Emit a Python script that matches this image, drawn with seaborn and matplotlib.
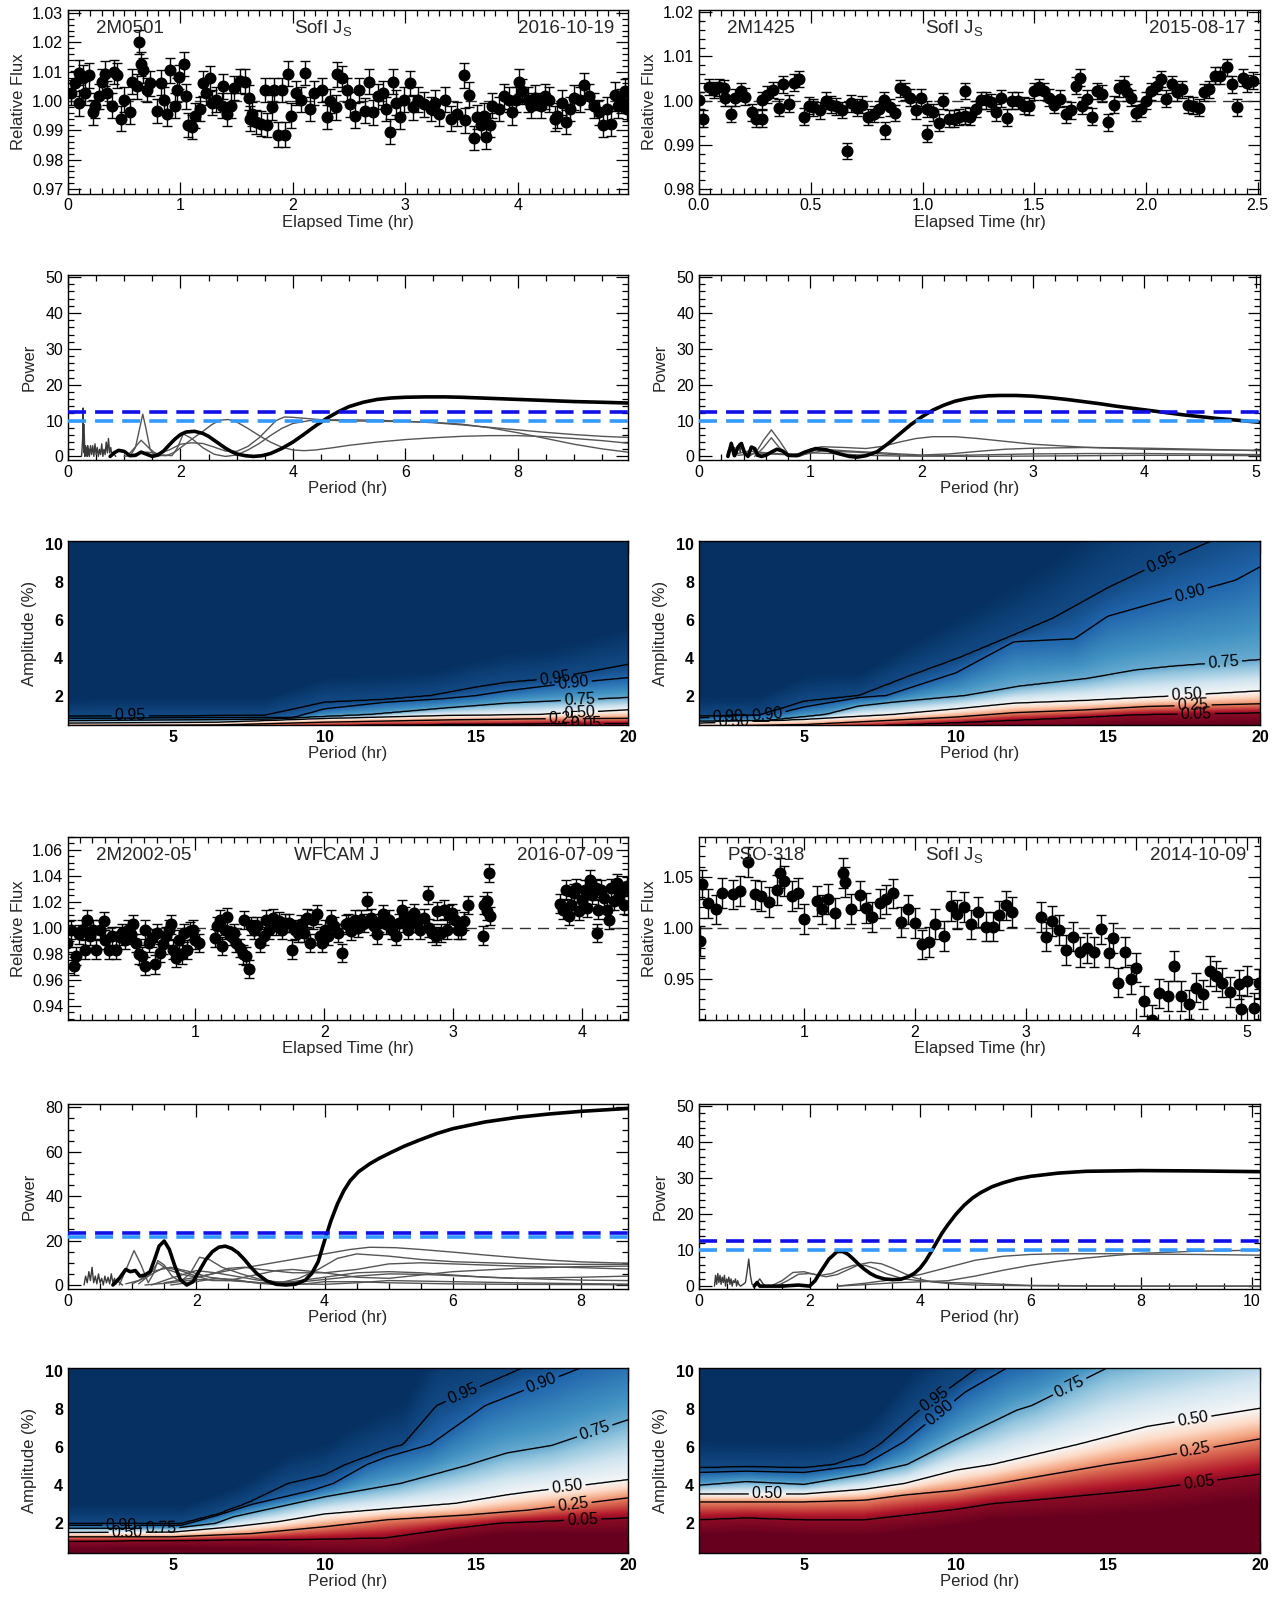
import numpy as np
import pandas as pd
import matplotlib
matplotlib.use("Agg")
import matplotlib.pyplot as plt
import seaborn as sns
from matplotlib.ticker import MultipleLocator

sns.set_theme(style="white")
plt.rcParams["font.family"] = ["Liberation Sans", "DejaVu Sans"]
plt.rcParams["mathtext.fontset"] = "custom"
plt.rcParams["mathtext.rm"] = "Liberation Sans"
plt.rcParams["mathtext.it"] = "Liberation Sans"

# ---------------- light curves ----------------
lc1_t = [0.03,0.06,0.1,0.1,0.135,0.15,0.19,0.22,0.24,0.28,0.3,0.33,0.35,0.39,0.41,0.44,0.47,0.5,0.55,0.57,
         0.61,0.63,0.65,0.67,0.7,0.73,0.79,0.83,0.85,0.88,0.91,0.95,0.97,0.99,1.03,1.05,1.07,1.1,1.13,1.17,
         1.2,1.23,1.26,1.28,1.32,1.37,1.38,1.41,1.45,1.48,1.53,1.57,1.61,1.62,1.64,1.67,1.72,1.75,1.77,1.81,
         1.83,1.87,1.9,1.93,1.96,1.98,2.03,2.07,2.11,2.15,2.19,2.26,2.3,2.33,2.38,2.39,2.44,2.48,2.51,2.55,
         2.59,2.64,2.68,2.71,2.76,2.8,2.83,2.86,2.89,2.92,2.95,2.99,3.04,3.07,3.11,3.17,3.23,3.26,3.3,3.35,
         3.41,3.46,3.52,3.53,3.57,3.61,3.64,3.67,3.7,3.72,3.75,3.77,3.83,3.88,3.92,3.95,3.98,4.01,4.04,4.09,
         4.12,4.15,4.21,4.24,4.28,4.33,4.35,4.39,4.43,4.46,4.5,4.55,4.59,4.63,4.68,4.72,4.76,4.79,4.83,4.86,
         4.89,4.92,4.95,4.97]
lc1_f = [1.0028,1.006,1.0096,0.9992,1.008,1.0027,1.0088,0.9962,0.9984,1.0016,1.0066,1.0093,1.0027,0.9984,1.0099,1.0088,0.994,1.0005,0.9964,1.0066,
         1.005,1.0201,1.0126,1.0104,1.0038,1.006,0.9966,1.0063,1.0005,0.9956,1.0104,0.9984,1.0038,1.0082,1.0126,1.0016,0.9918,0.9912,0.995,0.9973,
         1.006,1.0027,1.0077,0.9994,1.0005,0.9984,1.005,0.9956,0.9984,1.0044,1.0068,1.0066,1.0011,0.994,0.9956,0.9929,0.9923,1.0038,0.9918,0.9978,
         1.0038,0.9885,1.0038,0.9885,1.0093,0.995,1.0027,1.0005,1.0095,0.9973,1.0027,1.0038,0.9945,1.0,0.9978,1.0091,1.0077,1.0038,0.9989,0.995,
         1.0038,0.9967,1.0066,0.9962,1.0016,1.0027,0.9973,0.9896,1.0066,0.9994,0.9945,1.0005,1.006,0.9978,1.0005,0.9989,0.9973,0.9994,0.9956,1.0005,
         0.994,0.9956,1.0088,0.9934,1.0022,0.9874,0.9945,0.9918,0.995,0.9879,0.9918,0.9984,0.9973,1.0016,1.0005,0.9962,1.0005,1.0066,1.0033,1.0005,
         0.9984,1.0011,0.9984,1.0016,1.0005,0.994,0.995,0.9994,0.9929,0.9973,1.0011,1.0005,1.0055,1.0016,0.9984,0.9962,0.9918,0.9973,0.9923,1.0022,
         0.9984,1.0,1.0033,0.9973]
lc1_err = 0.0042

lc2_t = [0.0,0.02,0.044,0.068,0.091,0.113,0.117,0.141,0.163,0.186,0.208,0.238,0.254,0.281,0.281,0.305,0.329,0.357,0.378,0.402,
         0.424,0.448,0.47,0.494,0.512,0.543,0.567,0.589,0.612,0.638,0.662,0.68,0.707,0.731,0.757,0.781,0.804,0.826,0.83,0.854,
         0.878,0.9,0.923,0.945,0.973,0.995,1.018,1.022,1.046,1.073,1.091,1.119,1.141,1.165,1.188,1.192,1.214,1.238,1.261,1.283,
         1.305,1.329,1.353,1.378,1.402,1.426,1.452,1.475,1.499,1.521,1.545,1.567,1.59,1.616,1.64,1.664,1.686,1.704,1.713,1.737,
         1.759,1.782,1.804,1.832,1.856,1.878,1.901,1.914,1.932,1.956,1.978,2.002,2.024,2.048,2.069,2.091,2.115,2.139,2.161,2.188,
         2.212,2.238,2.261,2.283,2.307,2.331,2.362,2.384,2.408,2.432,2.453,2.48]
lc2_f = [1.0001,0.9959,1.0031,1.0024,1.003,1.0028,1.0007,0.997,1.0007,1.0021,1.0009,0.9974,0.9959,0.9959,1.0001,1.0013,1.0024,0.9984,1.0037,0.9993,
         1.0041,1.0049,0.9964,0.9989,0.9985,0.9978,1.0,0.9991,0.9987,0.9979,0.9886,0.9994,0.9984,0.9991,0.9963,0.997,0.9981,1.0001,0.9933,0.9985,
         0.9972,1.0028,1.0021,1.0007,0.9978,1.0007,0.9981,0.9925,0.9974,0.995,0.9999,0.9959,0.9959,0.9963,1.0022,0.9966,0.9964,0.9981,1.0001,1.0001,
         0.9996,0.9974,1.0005,0.9961,1.0,1.0,0.9989,0.9987,1.0021,1.0031,1.0021,1.0007,0.9991,1.0004,0.9969,0.9978,1.0034,1.0052,0.9989,1.0004,
         0.9964,1.0022,1.0016,0.9951,0.9991,1.0028,1.0036,1.0019,1.0006,0.9972,0.9981,1.0,1.0021,1.0034,1.0049,1.0004,1.0037,1.0019,1.0026,0.9991,
         0.9989,0.9984,1.0019,1.0026,1.0056,1.0056,1.0075,1.0037,0.9985,1.0052,1.0039,1.0045]
lc2_err = 0.0019

lc3_t = [0.006,0.03,0.054,0.07,0.096,0.118,0.14,0.159,0.182,0.204,0.229,0.261,0.287,0.3,0.325,0.35,0.382,0.404,0.427,0.452,
         0.478,0.5,0.516,0.541,0.564,0.586,0.605,0.611,0.637,0.659,0.682,0.7,0.723,0.745,0.771,0.796,0.809,0.828,0.85,0.873,
         0.898,0.914,0.936,0.955,0.978,0.999,1.025,1.153,1.169,1.191,1.21,1.232,1.248,1.274,1.296,1.318,1.344,1.369,1.376,1.392,
         1.414,1.433,1.455,1.478,1.503,1.529,1.551,1.573,1.599,1.624,1.646,1.669,1.694,1.726,1.752,1.774,1.796,1.822,1.847,1.869,
         1.892,1.917,1.943,1.965,1.981,2.006,2.029,2.051,2.076,2.108,2.14,2.166,2.188,2.21,2.236,2.261,2.283,2.306,2.331,2.363,
         2.389,2.411,2.427,2.459,2.484,2.506,2.529,2.554,2.58,2.602,2.624,2.65,2.675,2.697,2.72,2.745,2.777,2.803,2.815,2.841,
         2.866,2.879,2.904,2.93,2.952,2.968,2.994,3.016,3.038,3.064,3.089,3.121,3.232,3.239,3.261,3.261,3.28,3.287,
         3.828,3.854,3.876,3.898,3.917,3.939,3.955,3.981,4.003,4.025,4.045,4.067,4.083,4.108,4.121,4.13,4.153,4.172,4.194,4.21,
         4.226,4.248,4.271,4.293,4.306,4.331,4.353]
lc3_f = [0.9885,0.9987,0.9705,0.978,0.9949,0.9987,0.9833,1.0064,0.9936,0.9987,0.9833,0.9987,1.005,0.991,0.9833,0.9936,0.9833,0.9936,0.9962,0.991,
         0.9987,0.9949,1.0026,0.9885,0.9795,0.9782,0.9705,0.9987,0.9885,0.9923,0.9718,0.9962,0.9808,0.9872,0.9936,0.9987,1.0026,0.9833,0.9769,0.991,
         0.9795,0.9962,0.9833,0.9974,0.9987,0.991,0.9885,0.9923,1.0013,1.0064,0.9859,0.9987,1.0085,0.9936,0.9962,0.9885,0.9846,0.9795,1.0059,0.9782,
         0.9685,1.0013,0.9987,1.0013,0.9885,0.9936,1.0064,0.9987,1.0077,1.0013,1.0051,0.9987,1.0038,1.0038,0.9833,0.9987,0.9962,1.0026,0.9962,1.0077,
         0.9885,1.0064,1.0103,0.9936,0.9885,0.9987,0.9936,1.0064,1.0013,0.9962,0.9808,1.0026,1.0038,0.9974,1.0064,1.0,1.0064,1.0038,1.0205,1.0077,
         1.0013,0.9949,1.0038,1.0103,1.0026,1.0064,0.9987,0.9936,1.0038,1.0141,1.009,0.9987,1.0038,1.0115,1.0038,0.9987,1.0077,1.0256,1.0,0.9962,
         0.9936,1.0128,0.9962,1.0141,0.9987,1.0103,1.0115,1.0064,0.9987,0.9987,1.0051,1.0179,0.9941,1.0179,1.0205,1.0128,1.0423,1.009,
         1.0187,1.0141,1.0295,1.009,1.0179,1.0269,1.0308,1.0128,1.0218,1.0295,1.0154,1.0372,1.0256,1.0308,0.9962,1.0141,1.0295,1.0231,1.0141,1.0064,
         1.0308,1.0205,1.0346,1.0244,1.0282,1.0179,1.0321]
lc3_err = 0.007

lc4_t = [0.056,0.074,0.13,0.204,0.259,0.359,0.419,0.493,0.556,0.611,0.685,0.752,0.778,0.815,0.889,0.944,1.0,1.111,1.159,1.211,
         1.278,1.352,1.37,1.426,1.5,1.556,1.611,1.685,1.741,1.804,1.878,1.937,2.0,2.063,2.13,2.185,2.259,2.322,2.381,2.444,
         2.511,2.567,2.641,2.704,2.759,2.826,2.878,3.141,3.185,3.241,3.307,3.37,3.426,3.493,3.556,3.619,3.685,3.759,3.789,3.833,
         3.9,3.952,4.0,4.074,4.148,4.211,4.285,4.344,4.407,4.481,4.537,4.604,4.667,4.722,4.778,4.852,4.926,4.952,5.0,5.063,5.111]
lc4_f = [0.9869,1.0425,1.0239,1.018,1.0343,1.0327,1.0359,1.0647,1.0327,1.031,1.0252,1.0369,1.0539,1.0458,1.031,1.0343,1.0088,1.0261,1.018,1.0284,
         1.0147,1.0539,1.0448,1.0186,1.0317,1.0196,1.0108,1.0239,1.0278,1.0337,1.0056,1.018,1.0049,0.9837,0.9859,1.0039,0.9918,1.0212,1.0131,1.0206,
         1.0033,1.0154,1.001,1.001,1.0121,1.0219,1.0154,1.0108,0.9912,1.0065,0.9977,0.9781,0.9912,0.9761,0.9804,0.9761,0.9984,0.9755,0.9902,0.9461,
         0.9761,0.9493,0.9608,0.9281,0.9095,0.9356,0.933,0.9624,0.933,0.9248,0.9412,0.9346,0.9575,0.9526,0.9461,0.9369,0.9444,0.9199,0.9477,0.9216,0.9454]
lc4_err = 0.0145

# ---------------- periodograms ----------------
p1_thick_x = [0.75,0.82,0.9,1.0,1.1,1.2,1.3,1.4,1.5,1.6,1.7,1.8,1.9,2.0,2.1,2.25,2.4,2.5,2.6,2.7,2.8,2.9,3.0,3.15,3.3,3.45,3.6,
              3.8,4.0,4.2,4.4,4.6,4.8,5.0,5.25,5.5,5.75,6.0,6.35,6.7,7.0,7.5,8.0,8.5,9.0,9.5,9.95]
p1_thick_y = [0.0,1.0,1.7,1.4,0.2,0.3,1.2,0.6,0.0,0.4,1.5,3.2,4.8,6.1,6.8,7.0,6.4,5.6,4.5,3.4,2.3,1.4,0.7,0.2,0.0,0.2,0.8,
              2.2,4.0,6.2,8.5,10.6,12.4,13.9,15.1,15.9,16.3,16.5,16.6,16.6,16.5,16.2,15.9,15.6,15.3,15.1,14.9]
p1_thin_x = [
    [1.1,1.2,1.27,1.33,1.39,1.46,1.55,1.7,1.85,1.95,2.05,2.2,2.4,2.6,2.8,3.0,3.2,3.4,3.6,3.8,4.0,4.3,4.6,5.0,5.5,6.0,6.5,7.0,7.5,8.0,8.5,9.0,9.5,9.95],
    [1.05,1.15,1.3,1.45,1.6,1.75,1.9,2.05,2.2,2.4,2.55,2.7,2.85,3.0,3.2,3.4,3.6,3.8,4.0,4.2,4.4,4.7,5.0,5.5,6.0,6.5,7.0,7.5,8.0,8.5,9.0,9.5,9.95],
    [1.0,1.2,1.4,1.6,1.8,2.0,2.2,2.4,2.6,2.8,3.0,3.2,3.4,3.6,3.7,3.85,4.0,4.3,4.6,5.0,5.5,6.0,6.5,7.0,7.5,8.0,8.5,9.0,9.5,9.95],
]
p1_thin_y = [
    [0.0,2.5,7.5,11.8,7.5,2.0,0.0,0.4,0.2,2.5,6.3,5.0,2.4,0.6,0.0,0.4,1.8,3.6,5.8,7.8,9.2,10.0,10.2,10.2,10.1,9.8,9.4,8.8,8.1,7.4,6.7,6.1,5.6,5.3],
    [0.0,1.8,4.5,2.2,0.3,0.2,1.2,3.0,4.8,7.0,8.8,10.1,10.3,9.6,7.8,5.8,4.0,2.6,1.8,1.6,1.8,2.4,3.1,4.0,4.7,5.2,5.6,5.8,5.8,5.5,5.0,4.4,3.7],
    [0.0,0.6,1.2,0.8,1.8,3.4,3.8,3.6,2.6,1.5,1.4,2.8,5.2,8.4,10.0,11.0,10.9,10.5,10.1,9.9,9.8,9.7,9.5,9.0,8.0,6.6,5.0,3.4,2.1,1.2],
]
p1_noise_x = [0.24,0.25,0.26,0.27,0.275,0.28,0.285,0.29,0.30,0.31,0.32,0.33,0.34,0.35,0.36,0.37,0.38,0.40,0.42,0.44,0.46,0.48,
              0.50,0.52,0.54,0.56,0.58,0.60,0.62,0.64,0.66,0.68,0.70,0.72,0.74,0.76,0.78,0.80,0.85]
p1_noise_y = [0.0,2.0,5.0,13.5,3.0,9.0,1.0,6.0,0.0,3.0,1.0,2.5,0.0,3.0,0.5,2.0,0.0,3.0,0.5,3.0,0.0,3.5,
              0.5,2.5,0.0,2.0,0.5,3.5,0.0,2.0,0.5,4.0,1.0,5.0,1.0,2.5,0.5,1.0,0.0]

p2_thick_x = [0.26,0.29,0.32,0.35,0.38,0.41,0.44,0.47,0.5,0.53,0.56,0.6,0.65,0.7,0.75,0.8,0.88,0.95,1.05,1.15,1.25,1.35,1.42,
              1.5,1.6,1.7,1.8,1.9,2.0,2.1,2.2,2.3,2.4,2.5,2.6,2.7,2.85,3.0,3.15,3.3,3.45,3.6,3.75,3.9,4.05,4.2,4.35,4.5,4.65,4.8,5.04]
p2_thick_y = [0.0,3.6,0.2,2.6,3.6,1.0,0.0,2.6,2.2,0.3,0.0,0.3,1.2,2.0,1.5,0.3,0.2,1.2,2.2,1.8,0.8,0.0,-0.2,
              0.2,1.3,3.6,6.2,8.8,11.0,12.9,14.3,15.4,16.1,16.6,16.9,17.0,17.0,16.8,16.4,15.9,15.3,14.7,14.0,13.4,12.8,12.2,11.6,11.1,10.6,10.2,9.5]
p2_thin_x = [
    [0.45,0.52,0.58,0.65,0.72,0.8,0.9,1.0,1.1,1.3,1.5,1.65,1.8,1.95,2.1,2.3,2.5,2.75,3.0,3.5,4.0,4.5,5.04],
    [0.5,0.58,0.65,0.72,0.8,0.9,1.05,1.2,1.4,1.6,1.8,2.0,2.25,2.5,2.75,3.0,3.5,4.0,4.5,5.04],
    [0.3,0.45,0.6,0.8,1.0,1.2,1.5,1.8,2.0,2.5,3.0,3.5,4.0,4.5,5.04],
    [0.35,0.5,0.7,0.9,1.1,1.4,1.7,2.0,2.5,3.0,3.5,4.0,4.5,5.04],
]
p2_thin_y = [
    [0.0,1.5,4.5,7.4,4.5,0.8,0.0,2.0,2.7,2.5,2.2,2.8,4.0,5.0,5.5,5.5,5.0,4.2,3.4,2.5,2.0,1.8,1.7],
    [0.0,2.5,5.2,2.5,0.6,0.0,1.8,1.8,1.4,1.1,0.7,0.4,0.7,1.4,2.0,2.3,2.5,2.3,2.0,1.6],
    [0.5,1.5,1.0,0.6,1.0,0.8,0.3,0.1,0.1,0.4,0.7,0.8,0.8,0.7,0.5],
    [0.3,0.8,0.6,0.3,1.5,1.2,0.6,0.1,0.0,0.1,0.2,0.3,0.3,0.2],
]
p2_noise_x = [0.25,0.26,0.27,0.28,0.29,0.30,0.31,0.32,0.33,0.34,0.35,0.36,0.37,0.38,0.39,0.40,0.42,0.44,0.46,0.48,0.50,0.52]
p2_noise_y = [0.0,1.5,0.5,3.0,4.0,1.0,0.0,2.5,1.0,0.5,2.5,3.5,1.0,3.0,3.8,1.5,0.5,0.0,1.5,2.8,1.0,0.0]

p3_thick_x = [0.7,0.8,0.9,0.97,1.05,1.12,1.2,1.28,1.35,1.42,1.5,1.58,1.66,1.75,1.85,1.95,2.05,2.15,2.25,2.35,2.45,2.55,2.65,2.75,2.85,2.95,
              3.1,3.25,3.4,3.55,3.7,3.8,3.9,4.0,4.1,4.2,4.3,4.4,4.53,4.7,4.85,5.03,5.25,5.5,5.75,6.0,6.5,7.0,7.5,8.0,8.73]
p3_thick_y = [0.0,3.0,7.0,6.0,6.5,4.0,4.5,6.0,11.5,17.5,19.8,16.0,9.0,2.5,0.0,1.5,6.5,11.5,15.0,17.0,17.5,16.5,14.5,11.5,8.0,5.0,
              1.8,0.3,0.0,0.4,2.2,5.2,10.5,20.0,29.0,36.5,42.5,47.0,51.0,54.5,57.0,59.6,62.6,65.5,68.2,70.4,73.4,75.5,77.0,78.2,79.5]
p3_thin_x = [
    [1.5,2.0,2.5,3.0,3.5,4.0,4.4,4.7,5.1,5.5,6.0,6.5,7.0,7.5,8.0,8.73],
    [0.8,0.92,1.03,1.14,1.25,1.33,1.4,1.5,1.62,1.75,1.9,2.05,2.2,2.4,2.7,3.0,3.3,3.6,3.9,4.2,4.5,5.0,5.5,6.0,7.0,8.0,8.73],
    [1.1,1.25,1.4,1.55,1.75,2.0,2.25,2.5,2.75,3.0,3.5,4.0,4.5,5.0,5.5,6.0,7.0,8.0,8.73],
    [1.0,1.25,1.5,1.75,2.0,2.25,2.5,2.75,3.0,3.25,3.5,4.0,4.5,5.0,5.5,6.0,7.0,8.0,8.73],
    [1.3,1.6,2.0,2.3,2.6,3.0,3.5,4.0,4.5,5.0,5.5,6.0,7.0,8.0,8.73],
    [1.2,1.6,2.0,2.5,3.0,3.5,4.0,4.5,5.0,5.5,6.0,6.5,7.0,8.0,8.73],
    [1.6,2.0,2.3,2.6,2.9,3.3,3.7,4.0,4.5,5.0,6.0,7.0,8.0,8.73],
    [0.9,1.1,1.3,1.6,1.9,2.2,2.6,3.0,3.5,4.0,4.5,5.0,6.0,7.0,8.0,8.73],
]
p3_thin_y = [
    [1.0,3.5,6.5,9.0,11.5,14.0,16.0,17.0,16.8,16.0,14.8,13.5,12.3,11.2,10.4,9.8],
    [0.0,8.0,15.5,9.0,1.0,5.0,11.0,9.0,4.0,1.5,5.0,12.5,11.5,8.0,5.0,2.5,1.0,3.0,7.0,12.0,14.0,13.0,11.5,10.5,9.6,9.3,9.3],
    [0.5,4.0,10.0,7.0,5.0,3.5,5.0,7.5,8.0,7.0,5.5,5.5,7.0,9.5,10.0,9.5,8.5,7.8,7.2],
    [0.5,4.0,8.0,6.5,4.0,2.0,2.0,3.5,5.0,6.5,7.0,5.5,3.5,3.0,4.5,6.0,7.5,8.3,8.5],
    [0.0,3.0,6.5,5.5,4.0,2.0,1.0,2.5,4.0,5.0,4.8,4.2,3.0,2.2,2.0],
    [0.0,1.0,2.5,2.0,1.0,1.5,3.5,5.5,6.0,5.5,4.5,3.5,3.0,3.5,4.0],
    [0.0,1.5,3.0,2.5,1.0,0.0,0.5,1.5,1.5,1.0,0.5,0.3,0.2,0.1],
    [0.5,2.0,6.0,8.0,6.0,3.5,2.0,1.0,0.5,0.3,1.0,2.0,1.5,1.0,0.6,0.4],
]
p3_noise_x = [0.25,0.275,0.3,0.325,0.35,0.375,0.4,0.425,0.45,0.475,0.5,0.525,0.55,0.575,0.6,0.625,0.65,0.675,0.7,0.725,0.75,0.775,0.8,0.85]
p3_noise_y = [0.0,4.0,1.0,6.0,2.0,8.0,1.0,4.0,0.5,5.0,1.0,3.0,0.0,4.0,1.0,3.5,0.5,5.0,1.0,3.0,0.5,2.5,1.0,0.0]

p4_thick_x = [1.0,1.05,1.1,1.3,1.5,1.8,2.0,2.1,2.2,2.35,2.5,2.6,2.7,2.8,2.9,3.0,3.1,3.2,3.35,3.5,3.65,3.8,3.9,4.0,4.1,4.2,4.3,4.4,4.5,
              4.65,4.8,4.95,5.1,5.3,5.5,5.75,6.0,6.5,7.0,7.5,8.0,9.0,10.15]
p4_thick_y = [0.0,1.0,0.0,0.0,0.0,0.3,0.0,1.5,4.0,7.5,9.6,9.6,8.8,7.4,5.9,4.6,3.5,2.7,2.0,1.8,1.9,2.7,3.6,5.0,7.0,9.5,12.2,14.8,17.0,
              20.0,22.5,24.5,26.0,27.6,28.7,29.8,30.5,31.4,31.9,32.0,32.1,32.0,31.8]
p4_thin_x = [
    [1.3,1.5,1.7,1.9,2.1,2.3,2.5,2.7,2.9,3.1,3.3,3.5,3.7,3.9,4.2,4.6,5.0,5.5,6.0,7.0,8.0,9.0,10.15],
    [1.4,1.6,1.8,2.0,2.2,2.4,2.6,2.8,3.0,3.2,3.4,3.7,4.0,4.5,5.0,5.5,6.0,7.0,8.0,9.0,10.15],
    [2.5,3.0,3.5,4.0,4.5,5.0,5.5,6.0,6.5,7.0,7.5,8.0,9.0,10.15],
    [2.5,3.0,3.5,4.0,4.5,5.0,5.5,6.0,6.5,7.0,7.5,8.0,9.0,10.15],
]
p4_thin_y = [
    [0.0,1.5,3.8,4.0,3.2,2.6,3.2,4.6,6.0,6.6,6.2,5.0,3.6,2.3,1.2,0.6,0.3,0.2,0.1,0.0,0.0,0.0,0.0],
    [0.0,1.5,3.3,3.5,3.0,3.5,4.8,5.8,5.8,4.8,3.4,2.0,1.5,1.0,0.8,0.5,0.2,0.1,0.0,0.0,0.0],
    [0.0,0.8,1.8,3.2,5.2,7.2,8.3,8.8,9.0,9.0,9.0,8.9,8.8,8.6],
    [0.0,0.4,0.9,1.2,1.5,2.8,4.4,5.8,6.9,7.8,8.5,9.1,9.7,10.0],
]
p4_noise_x = [0.28,0.3,0.32,0.34,0.36,0.38,0.4,0.42,0.44,0.46,0.48,0.5,0.52,0.54,0.56,0.58,0.6,0.62,0.64,0.66,0.68,0.7,0.72,0.75,
              0.8,0.84,0.87,0.9,0.93,0.96,1.0,1.05,1.1,1.15,1.2]
p4_noise_y = [0.0,3.0,0.5,3.5,1.0,3.0,0.5,2.5,1.0,3.0,0.0,2.0,1.0,2.5,0.5,2.0,0.0,1.5,1.0,2.0,0.0,1.5,0.5,0.0,
              0.5,1.0,4.0,7.5,3.0,0.5,0.3,1.0,2.0,0.8,0.0]

p1_thr = (12.3, 9.9)
p2_thr = (12.3, 9.9)
p3_thr = (23.2, 21.5)
p4_thr = (12.4, 9.9)

# ---------------- sensitivity maps: contour positions (period, amplitude) ----------------
prob_levels = [0.05, 0.25, 0.50, 0.75, 0.90, 0.95]
h1 = {
    0.05: ([1.5,10,15,20], [0.30,0.42,0.50,0.55]),
    0.25: ([1.5,6.5,10,14,17,20], [0.42,0.45,0.60,0.72,0.78,0.80]),
    0.50: ([1.5,6.5,10,14,17,20], [0.55,0.60,0.80,0.95,1.00,1.25]),
    0.75: ([1.5,8,11.5,14,16,18,20], [0.68,0.75,1.00,1.35,1.60,1.75,1.90]),
    0.90: ([1.5,9,10,12,14,15,16,18,20], [0.80,0.85,1.30,1.65,1.85,2.00,2.25,2.65,2.95]),
    0.95: ([1.5,8,10,12,13.5,15,16,17.5,20], [0.90,0.95,1.65,1.80,2.00,2.45,2.70,2.90,3.65]),
}
h2 = {
    0.05: ([1.5,7.6,10.3,13.6,15.9,20], [0.25,0.43,0.60,0.82,1.00,1.10]),
    0.25: ([1.5,5,10,11.9,14.3,16.3,20], [0.38,0.47,0.87,1.10,1.25,1.43,1.57]),
    0.50: ([1.5,5,7.9,10,11.9,14.3,17,20], [0.55,0.75,1.00,1.30,1.60,1.75,1.97,2.25]),
    0.75: ([1.5,3.6,5.7,6.8,7.9,10.3,12.1,14.3,15.9,17.1,20], [0.65,0.65,1.00,1.45,1.65,2.00,2.50,2.90,3.35,3.55,3.90]),
    0.90: ([1.5,4.0,5.0,6.8,7.7,10,11.9,13.9,15,16,19.2,20], [0.82,1.00,1.40,1.90,2.00,3.20,4.85,5.00,6.20,6.65,8.10,8.80]),
    0.95: ([1.5,3.5,5.0,6.8,8.4,10.1,11.9,13.2,15,16.3,18.3,20], [0.92,0.95,1.70,2.00,3.00,4.00,5.20,6.10,7.70,8.70,10.10,11.2]),
}
h3 = {
    0.05: ([1.5,10,12,14,15.8,18.1,20], [1.07,1.18,1.25,1.70,2.03,2.18,2.30]),
    0.25: ([1.5,5.0,7.6,10,12.05,14.7,16.7,20], [1.30,1.30,1.47,1.83,2.20,2.45,2.70,3.35]),
    0.50: ([1.5,5.0,7.0,8.5,10,12.7,14.3,16,16.7,20], [1.53,1.55,1.83,2.10,2.50,2.85,3.05,3.50,3.65,4.30]),
    0.75: ([1.5,5.0,6.4,7.0,10,12.5,14.7,16,17.5,20], [1.75,1.75,2.00,2.35,3.40,4.10,5.05,5.70,6.10,7.45]),
    0.90: ([1.5,5.3,6.5,7.6,9.5,10.3,11.4,12.05,13.5,15.3,18.4,20], [1.90,1.90,2.45,3.00,3.70,4.10,5.10,5.50,6.15,8.20,10.15,10.9]),
    0.95: ([1.5,5.3,6.5,7.5,8.8,10,10.7,12.05,12.6,13.7,16.5,20], [2.00,2.00,2.50,3.10,4.10,4.55,5.10,5.90,6.15,8.20,10.15,11.5]),
}
h4 = {
    0.05: ([1.5,3.1,5,7,10,11.2,13,15,16.3,20], [2.20,2.30,2.20,2.20,2.75,3.05,3.30,3.60,3.80,4.60]),
    0.25: ([1.5,5,7,8.3,10,11.2,13,15,16.3,20], [3.14,3.14,3.23,3.50,3.75,4.05,4.55,5.10,5.40,6.45]),
    0.50: ([1.5,5,7,8.3,10,11.2,12,14,16.3,20], [3.55,3.55,3.80,4.10,4.80,5.10,5.40,6.15,7.10,8.05]),
    0.75: ([1.5,3.1,5,7,8.4,10,12,12.5,15,20], [4.00,4.20,4.05,4.60,5.10,6.40,7.95,8.20,10.2,12.0]),
    0.90: ([1.5,3.1,5,7,8.3,10.3,11.7,20], [4.68,4.75,4.68,5.10,6.30,8.90,10.2,14.0]),
    0.95: ([1.5,3.1,5,6,7,7.5,8.8,10.7,20], [4.93,4.98,4.93,5.10,5.65,6.15,7.95,10.15,15.0]),
}
h1_labels = [(3.6,0.96),(17.6,2.92),(18.2,2.6),(18.4,1.74),(18.4,1.04),(17.9,0.75),(18.6,0.5)]
h2_labels = [(2.5,0.9),(3.8,0.9),(2.7,0.62),(16.7,9.2),(17.6,7.9),(18.8,3.6),(17.6,2.0),(17.8,1.5),(17.9,1.05)]
h3_labels = [(3.3,1.9),(4.6,1.75),(3.5,1.53),(14.5,9.0),(17.3,8.7),(19.0,6.4),(18.0,3.8),(18.2,2.9),(18.5,2.2)]
h4_labels = [(9.3,8.5),(9.6,7.5),(13.8,9.0),(3.8,3.55),(17.8,7.4),(17.9,5.6),(18.0,4.0)]

# ---------------- layout ----------------
W, H = 1280, 1597
fig = plt.figure(figsize=(W/100, H/100), dpi=100)
cols = [(68, 628), (699, 1260)]
rows = [(10, 193.5), (275, 460), (541, 725), (837, 1020), (1104, 1289), (1368, 1553)]

def mkax(c, r):
    x0, x1 = cols[c]; y0, y1 = rows[r]
    return fig.add_axes([x0/W, 1-y1/H, (x1-x0)/W, (y1-y0)/H])

FS_T = 11.5
FS_L = 12

def style(ax, xmaj, xmin, ymaj, ymin, bold=False):
    ax.xaxis.set_major_locator(MultipleLocator(xmaj))
    ax.xaxis.set_minor_locator(MultipleLocator(xmin))
    ax.yaxis.set_major_locator(MultipleLocator(ymaj))
    ax.yaxis.set_minor_locator(MultipleLocator(ymin))
    ax.tick_params(which="both", direction="in", top=True, right=True, bottom=True, left=True,
                   colors="black", labelsize=FS_T, width=0.9)
    ax.tick_params(which="major", length=9)
    ax.tick_params(which="minor", length=4.5)
    for s in ax.spines.values():
        s.set_color("black"); s.set_linewidth(1.0)

def light_curve(ax, t, f, err, xlim, ylim, xt, yt, name, inst, date, fmt):
    ax.axhline(1.0, color="#333333", lw=1.0, ls=(0, (8, 5)), zorder=1)
    eb = ax.errorbar(t, f, yerr=err, fmt="none", ecolor="black", elinewidth=1.0, capsize=3.5, capthick=1.0, zorder=2)
    for cl in eb[1]:
        cl.set_color("#777777")
    sns.scatterplot(x=t, y=f, ax=ax, color="black", s=75, linewidth=0, zorder=3, legend=False)
    ax.set_xlim(*xlim); ax.set_ylim(*ylim)
    style(ax, *xt, *yt)
    ax.yaxis.set_major_formatter(matplotlib.ticker.FormatStrFormatter(fmt))
    ax.set_xlabel("Elapsed Time (hr)", fontsize=FS_L, labelpad=1)
    ax.set_ylabel("Relative Flux", fontsize=FS_L, labelpad=4)
    ax.text(0.05, 0.9, name, transform=ax.transAxes, fontsize=13.5, va="center", ha="left")
    ax.text(inst[1], 0.9, inst[0], transform=ax.transAxes, fontsize=13.5, va="center", ha="center")
    ax.text(0.975, 0.9, date, transform=ax.transAxes, fontsize=13.5, va="center", ha="right")

def periodogram(ax, tx, ty, thin_x, thin_y, nx, ny, thr, xlim, ylim, xt, yt):
    sns.lineplot(x=nx, y=ny, ax=ax, color="#3a3a3a", lw=1.0, estimator=None, sort=False, zorder=2)
    for xs, ys in zip(thin_x, thin_y):
        sns.lineplot(x=xs, y=ys, ax=ax, color="#555555", lw=1.0, estimator=None, sort=False, zorder=2)
    sns.lineplot(x=tx, y=ty, ax=ax, color="black", lw=2.6, estimator=None, sort=False, zorder=3)
    ax.axhline(thr[0], color="#1010e6", lw=2.6, ls=(0, (5, 2.5)), zorder=4)
    ax.axhline(thr[1], color="#3399ff", lw=2.6, ls=(0, (5, 2.5)), zorder=4)
    ax.set_xlim(*xlim); ax.set_ylim(*ylim)
    style(ax, *xt, *yt)
    ax.set_xlabel("Period (hr)", fontsize=FS_L, labelpad=1)
    ax.set_ylabel("Power", fontsize=FS_L, labelpad=6)

def sensitivity(ax, cont, labels):
    P = np.linspace(1.5, 20, 240)
    A = np.linspace(0.4, 10.2, 240)
    Z = np.empty((len(A), len(P)))
    for j, p in enumerate(P):
        amps = [np.interp(p, cont[l][0], cont[l][1]) for l in prob_levels]
        lo = amps[0] - 0.6*(amps[1]-amps[0]) - 0.3
        hi = amps[-1] + 0.7*(amps[-1]-amps[3]) + 0.9
        Z[:, j] = np.interp(A, [lo]+amps+[hi], [0.0]+prob_levels+[1.0])
    ax.pcolormesh(P, A, Z, cmap="RdBu", vmin=0, vmax=1, shading="gouraud", rasterized=True)
    cs = ax.contour(P, A, Z, levels=prob_levels, colors="black", linewidths=1.0)
    ax.clabel(cs, fmt="%.2f", fontsize=11.5, inline=True, inline_spacing=3, manual=labels)
    ax.set_xlim(1.55, 20); ax.set_ylim(0.45, 10.17)
    style(ax, 5, 1, 2, 0.5)
    ax.set_xticks([5, 10, 15, 20]); ax.set_yticks([2, 4, 6, 8, 10])
    for lab in ax.get_xticklabels() + ax.get_yticklabels():
        lab.set_fontweight("bold")
    ax.set_xlabel("Period (hr)", fontsize=FS_L, labelpad=1)
    ax.set_ylabel("Amplitude (%)", fontsize=FS_L, labelpad=6)

sofi = r"SofI J$_\mathrm{S}$"

ax = mkax(0, 0)
light_curve(ax, lc1_t, lc1_f, lc1_err, (0, 4.98), (0.9685, 1.031), (1, 0.1), (0.01, 0.002),
            "2M0501", (sofi, 0.455), "2016-10-19", "%.2f")
ax = mkax(1, 0)
light_curve(ax, lc2_t, lc2_f, lc2_err, (0, 2.51), (0.979, 1.0205), (0.5, 0.05), (0.01, 0.002),
            "2M1425", (sofi, 0.455), "2015-08-17", "%.2f")
ax.xaxis.set_major_formatter(matplotlib.ticker.FormatStrFormatter("%.1f"))
ax = mkax(0, 3)
light_curve(ax, lc3_t, lc3_f, lc3_err, (0.01, 4.36), (0.929, 1.070), (1, 0.1), (0.02, 0.005),
            "2M2002-05", ("WFCAM J", 0.48), "2016-07-09", "%.2f")
ax = mkax(1, 3)
light_curve(ax, lc4_t, lc4_f, lc4_err, (0.048, 5.12), (0.9095, 1.089), (1, 0.1), (0.05, 0.01),
            "PSO-318", (sofi, 0.455), "2014-10-09", "%.2f")

ax = mkax(0, 1)
periodogram(ax, p1_thick_x, p1_thick_y, p1_thin_x, p1_thin_y, p1_noise_x, p1_noise_y, p1_thr,
            (0, 9.96), (-1, 50.6), (2, 0.5), (10, 2))
ax = mkax(1, 1)
periodogram(ax, p2_thick_x, p2_thick_y, p2_thin_x, p2_thin_y, p2_noise_x, p2_noise_y, p2_thr,
            (0, 5.04), (-1, 50.6), (1, 0.2), (10, 2))
ax = mkax(0, 4)
periodogram(ax, p3_thick_x, p3_thick_y, p3_thin_x, p3_thin_y, p3_noise_x, p3_noise_y, p3_thr,
            (0, 8.73), (-1.8, 81.5), (2, 0.5), (20, 5))
ax = mkax(1, 4)
periodogram(ax, p4_thick_x, p4_thick_y, p4_thin_x, p4_thin_y, p4_noise_x, p4_noise_y, p4_thr,
            (0, 10.15), (-0.8, 50.6), (2, 0.5), (10, 2))

ax = mkax(0, 2); sensitivity(ax, h1, h1_labels)
ax = mkax(1, 2); sensitivity(ax, h2, h2_labels)
ax = mkax(0, 5); sensitivity(ax, h3, h3_labels)
ax = mkax(1, 5); sensitivity(ax, h4, h4_labels)

fig.savefig("out.png", dpi=100, facecolor="white")
